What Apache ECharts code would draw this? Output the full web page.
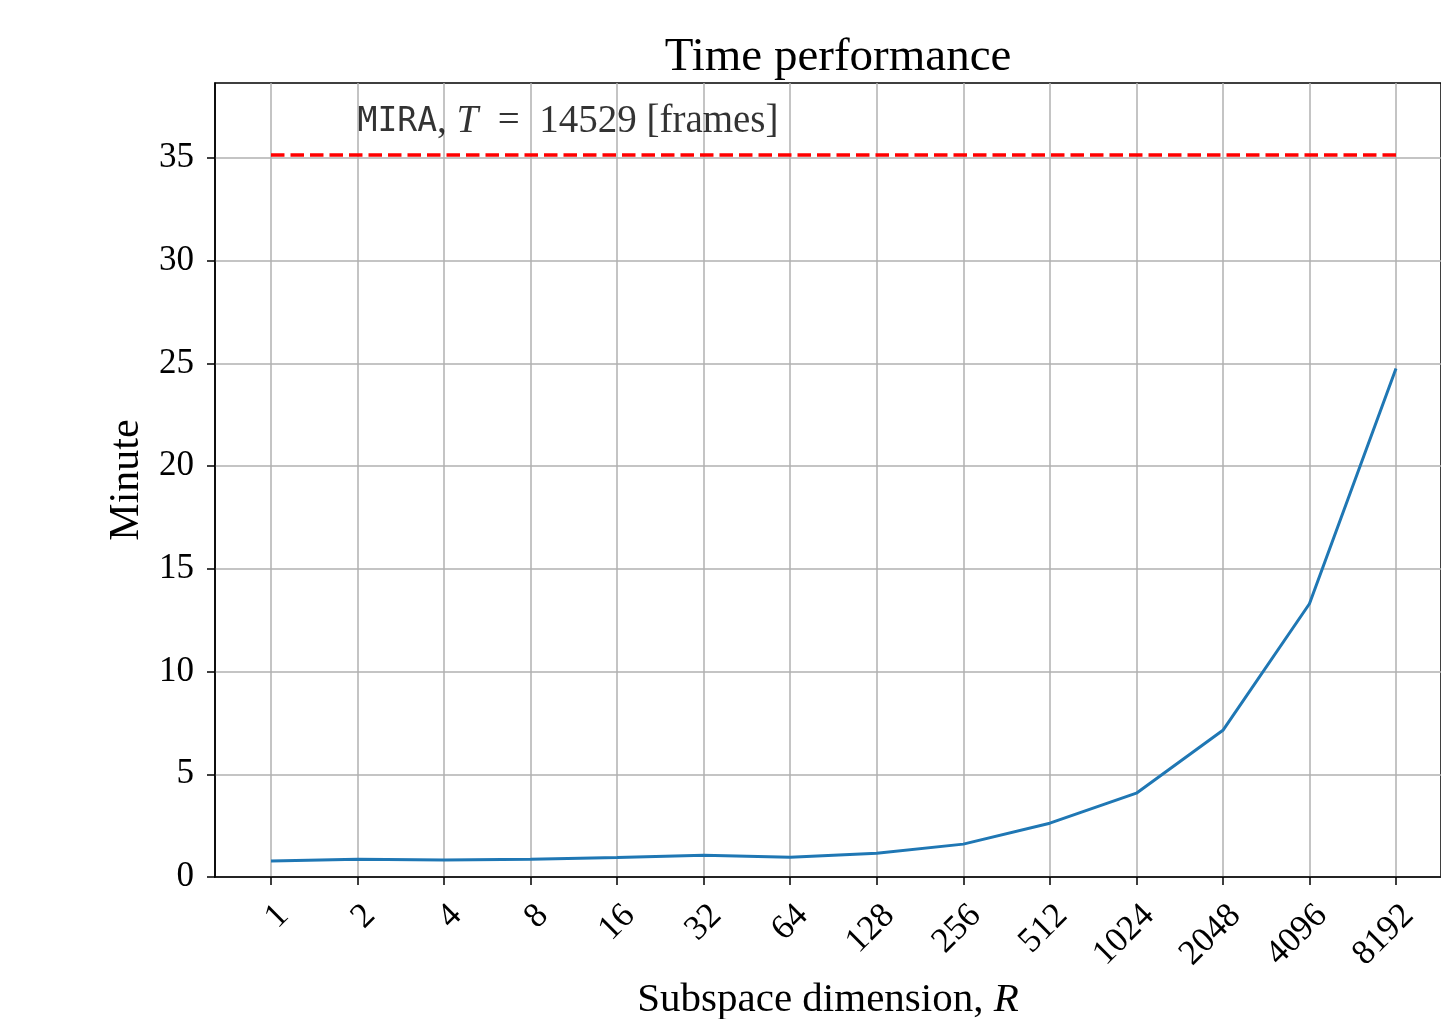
<!DOCTYPE html>
<html><head><meta charset="utf-8">
<script src="https://cdn.jsdelivr.net/npm/echarts@6/dist/echarts.min.js"></script>
<style>html,body{margin:0;padding:0;background:#fff}#c{width:1441px;height:1019px}</style>
</head><body><div id="c"></div>
<script>
const categories = ['1','2','4','8','16','32','64','128','256','512','1024','2048','4096','8192'];
const minutes = [0.78,0.87,0.83,0.87,0.95,1.06,0.96,1.16,1.6,2.62,4.08,7.14,13.3,24.75];
const miraMinutes = 35.15;
const yTicks = [0,5,10,15,20,25,30,35];
const SERIF = '"Liberation Serif","DejaVu Serif",serif';

const chart = echarts.init(document.getElementById('c'), null, {renderer:'canvas'});
const idx = categories.map((_, i) => i);
chart.setOption({
  animation:false,
  backgroundColor:'#fff',
  title:{text:'Time performance', left:833, top:29, textAlign:'center',
    textStyle:{fontFamily:SERIF, fontWeight:'normal', fontSize:47, color:'#000'}},
  grid:{left:215, right:0, top:83, bottom:142, show:true, borderColor:'#000', borderWidth:1.5,
    backgroundColor:'transparent', outerBoundsMode:'none', containLabel:false},
  xAxis:{type:'value', min:-0.647, max:13.52,
    name:'Subspace dimension, {i|R}', nameLocation:'middle', nameGap:102,
    nameTextStyle:{fontFamily:SERIF, fontSize:41, color:'#000', rich:{i:{fontFamily:SERIF, fontStyle:'italic', fontSize:41, color:'#000'}}},
    axisLine:{show:true, onZero:false, lineStyle:{color:'#000', width:1.5}},
    axisTick:{show:true, length:8, customValues:idx, lineStyle:{color:'#000', width:1.5}},
    splitLine:{show:true, lineStyle:{color:'#b0b0b0', width:1.5}},
    axisLabel:{customValues:idx, formatter:v => categories[Math.round(v)], rotate:45, margin:21,
      align:'right', verticalAlign:'top',
      fontFamily:SERIF, fontSize:35, color:'#000'}
  },
  yAxis:{type:'value', min:0, max:38.65,
    name:'Minute', nameLocation:'middle', nameGap:64, nameRotate:90,
    nameTextStyle:{fontFamily:SERIF, fontSize:42, color:'#000'},
    axisLine:{show:true, onZero:false, lineStyle:{color:'#000', width:1.5}},
    axisTick:{show:true, length:8, customValues:yTicks, lineStyle:{color:'#000', width:1.5}},
    splitLine:{show:true, lineStyle:{color:'#b0b0b0', width:1.5}},
    axisLabel:{customValues:yTicks, margin:21, fontFamily:SERIF, fontSize:35, color:'#000'}
  },
  series:[
    {type:'line', data:idx.map(i => [i, miraMinutes]), symbol:'none', z:3,
      lineStyle:{color:'#ff0000', width:3.5, type:[13.5,6]}},
    {type:'line', data:idx.map(i => [i, minutes[i]]), symbol:'none', z:4,
      lineStyle:{color:'#1f77b4', width:3}},
    {type:'scatter', data:[[1, 36.75]], symbolSize:0, silent:true,
      label:{show:true, position:'inside', align:'left', verticalAlign:'middle', color:'#000',
        formatter:'{m|MIRA}{s|, }{i|T}{s|  =  14529 [frames]}',
        rich:{m:{fontFamily:'"DejaVu Sans Mono","Liberation Mono",monospace', fontSize:33, color:'#000'},
              s:{fontFamily:SERIF, fontSize:39, color:'#000'},
              i:{fontFamily:SERIF, fontStyle:'italic', fontSize:39, color:'#000'}}}}
  ]
});
</script></body></html>
